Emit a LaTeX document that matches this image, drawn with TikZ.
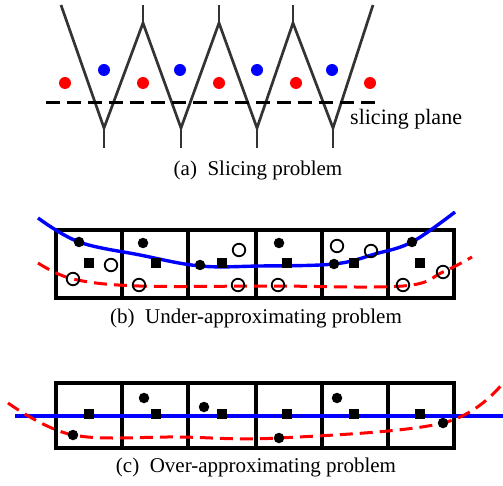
\documentclass[tikz,border=0pt]{standalone}
\usepackage{fontspec}
\setmainfont{Liberation Serif}
\begin{document}
\begin{tikzpicture}[x=1pt,y=-1pt,
  zig/.style={line width=2.7pt,draw=black!80},
  reddot/.style={circle,fill=red,inner sep=0pt,minimum size=12pt},
  bluedot/.style={circle,fill=blue,inner sep=0pt,minimum size=12pt},
  bdot/.style={circle,fill=black,inner sep=0pt,minimum size=10.5pt},
  odot/.style={circle,draw=black,line width=1.8pt,fill=none,inner sep=0pt,minimum size=12.5pt},
  sq/.style={rectangle,fill=black,inner sep=0pt,minimum size=10pt},
  cellbox/.style={line width=3.4pt,draw=black},
  bluecurve/.style={line width=3.4pt,draw=blue},
  redcurve/.style={line width=3pt,draw=red,dash pattern=on 13pt off 7pt},
  captext/.style={font=\fontsize{21}{24}\selectfont,anchor=base}
]
\useasboundingbox (0,0) rectangle (503,486);
% ---------- (a) ----------
\draw[zig] (61,5) -- (104,128) -- (143,23) -- (181,128) -- (219,23) -- (257,128) -- (293,23) -- (333,128) -- (373,5);
\foreach \x in {143,219,293} \draw[zig] (\x,5) -- (\x,23);
\foreach \x in {104,181,257,333} \draw[zig] (\x,128) -- (\x,148);
\foreach \x in {65,143,219,296,370} \node[reddot] at (\x,83) {};
\foreach \x in {104,180,257,332} \node[bluedot] at (\x,70) {};
\draw[line width=3pt,dash pattern=on 14pt off 7pt] (46,103) -- (377,103);
\node[font=\fontsize{22}{25}\selectfont,anchor=base west,inner sep=0pt] (sp) at (350,125) {slicing plane};
\node[captext] (capa) at (258,176) {(a)\ \ Slicing problem};
% ---------- (b) ----------
\draw[cellbox] (56,230) rectangle (454,298);
\foreach \x in {122,188,256,322,388} \draw[cellbox] (\x,230) -- (\x,298);
\draw[bluecurve] plot[smooth,tension=0.6] coordinates {(38,218) (79,242) (140,255) (200,266) (260,266) (334,264) (375,254) (412,242) (455,212)};
\draw[redcurve] plot[smooth,tension=0.6] coordinates {(38,263) (73,279) (139,286) (270,286) (403,286) (443,272) (472,257)};
\foreach \x/\y in {79/242,143/243,200/265,279/243,334/264,412/242} \node[bdot] at (\x,\y) {};
\foreach \x in {89,156,222,287,354,420} \node[sq] at (\x,263) {};
\foreach \x/\y in {111/265,73/279,139/285,239/250,238/285,278/285,337/246,371/251,403/285,443/272} \node[odot] at (\x,\y) {};
\node[captext] (capb) at (256,323) {(b)\ \ Under-approximating problem};
% ---------- (c) ----------
\draw[cellbox] (56,383) rectangle (454,448);
\foreach \x in {122,188,256,322,388} \draw[cellbox] (\x,383) -- (\x,448);
\draw[bluecurve] (15,416) -- (503,416);
\foreach \x in {89,156,222,287,354,420} \node[sq] at (\x,414) {};
\draw[redcurve] plot[smooth,tension=0.6] coordinates {(8,403) (73,435) (180,437) (279,438) (443,423) (503,383)};
\foreach \x/\y in {73/435,144/398,204/407,279/438,337/398,443/423} \node[bdot] at (\x,\y) {};
\node[captext] (capc) at (256,472) {(c)\ \ Over-approximating problem};
\end{tikzpicture}
\end{document}
